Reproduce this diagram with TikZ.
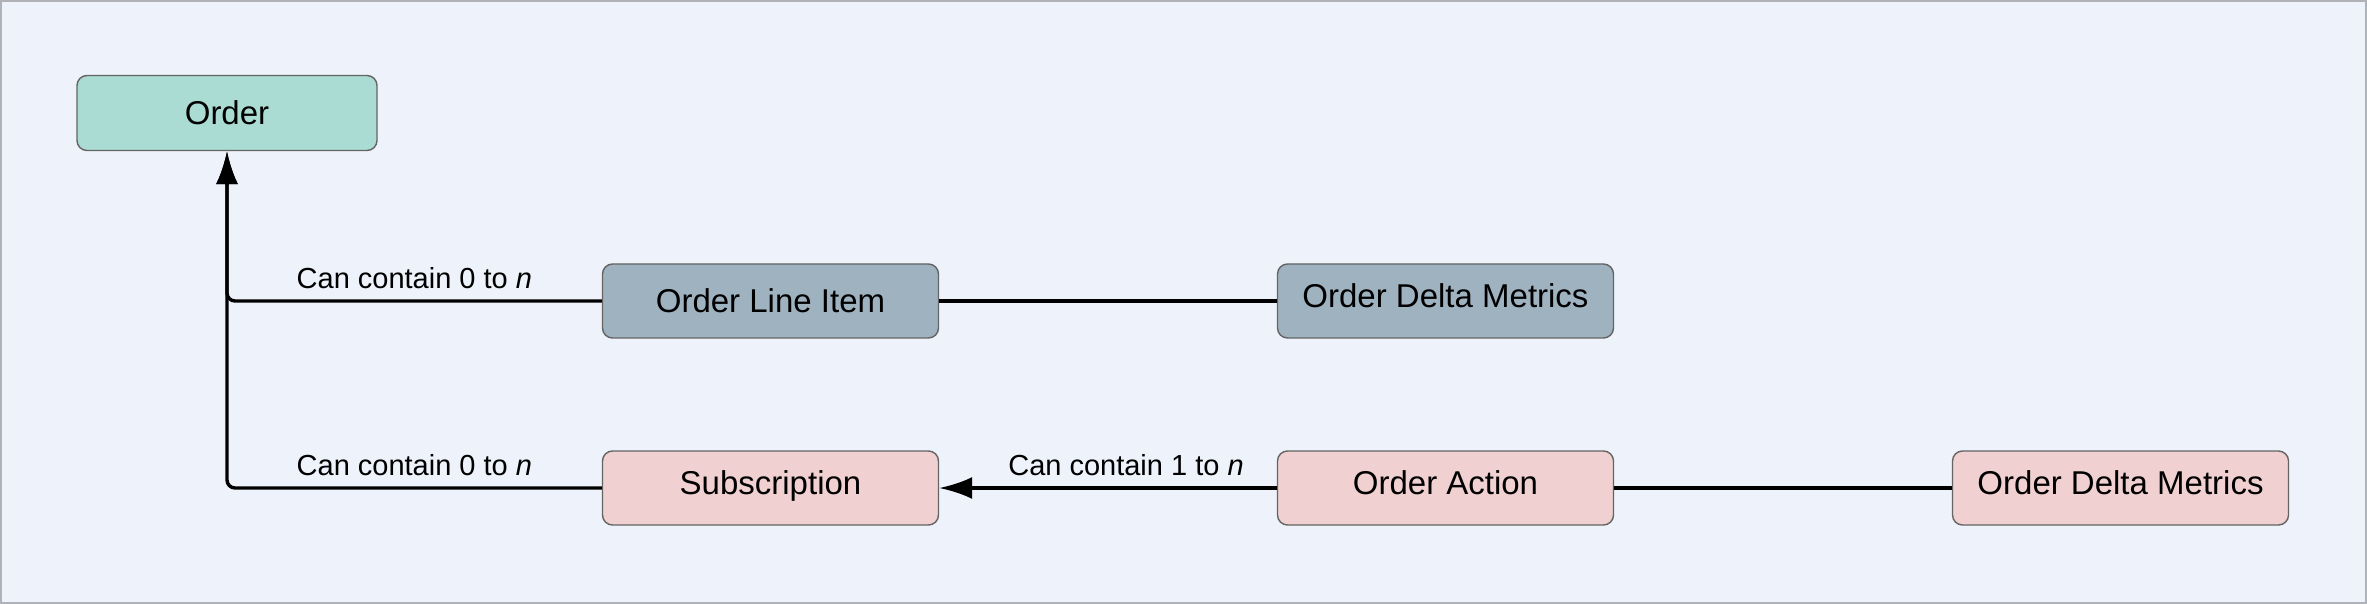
\documentclass[tikz,border=0pt]{standalone}
\usepackage{fontspec}
\setmainfont{Liberation Sans}
\usepackage{xcolor}
\usepackage{tikz}
\usetikzlibrary{
  arrows.meta,
  positioning
}
\definecolor{PaleBlue}{RGB}{238, 242, 250}
\definecolor{FrameGray}{RGB}{176, 178, 184}
\definecolor{SeaGreen}{RGB}{170, 220, 212}
\definecolor{SlateBlue}{RGB}{159, 178, 192}
\definecolor{RosePink}{RGB}{240, 208, 208}
\definecolor{EdgeGray}{RGB}{100, 100, 100}
\tikzset{
    entity/.style={rectangle, draw=EdgeGray, line width=0.7pt, rounded corners=5pt, inner sep=0pt,
        minimum width=168pt, minimum height=37pt, text height=11.8pt, text depth=0pt,
        font=\fontsize{16.5}{19}\selectfont},
    lifted/.style={text depth=5pt},
    link/.style={line width=1.7pt, rounded corners=4pt},
    tag/.style={font=\fontsize{14.5}{17}\selectfont, anchor=south, inner sep=0pt, yshift=5.5pt},
    tip/.style={-{Latex[length=16.5pt, width=11pt]}}
}

\begin{document}
\begin{tikzpicture}[x=0.5pt, y=-0.5pt]
            \useasboundingbox (0,0) rectangle (2367,604);
            \draw[draw=FrameGray, fill=PaleBlue, line width=1.2pt] (1,1) rectangle (2366,603);

            \node[entity, fill=SeaGreen, minimum width=150pt, minimum height=37.5pt] (order) at (227,113) {Order};

            \node[entity, fill=SlateBlue] (lineitem) at (770.5,301) {Order Line Item};
            \node[entity, lifted, fill=SlateBlue] (itemdelta) at (1445.5,301) {Order Delta Metrics};

            \node[entity, lifted, fill=RosePink] (subscription) at (770.5,488) {Subscription};
            \node[entity, lifted, fill=RosePink] (action) at (1445.5,488) {Order Action};
            \node[entity, lifted, fill=RosePink] (actiondelta) at (2120.5,488) {Order Delta Metrics};

            \draw[link, tip] (lineitem.west) -| node[tag, pos=0.25] {Can contain 0 to \textit{n}} (order.south);
            \draw[link, tip] (subscription.west) -| node[tag, pos=0.25] {Can contain 0 to \textit{n}} (order.south);
            \draw[link] (lineitem) -- (itemdelta);
            \draw[link, tip] (action) -- node[tag, xshift=9pt] {Can contain 1 to \textit{n}} (subscription);
            \draw[link] (action) -- (actiondelta);
        \end{tikzpicture}
\end{document}
